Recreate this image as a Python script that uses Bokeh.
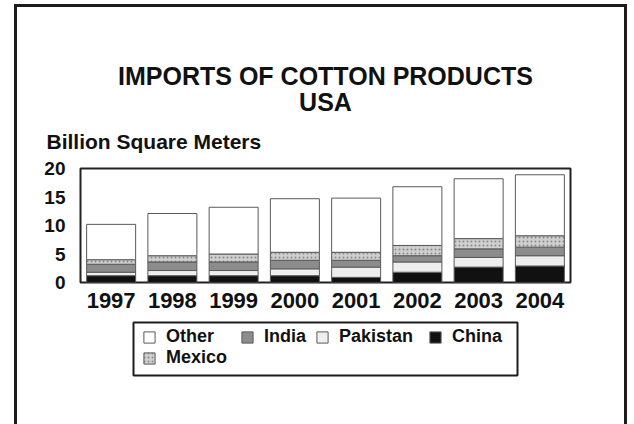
from bokeh.plotting import figure
from bokeh.layouts import column
from bokeh.models import (Title, Legend, LegendItem, FixedTicker, Range1d, FactorRange,
                          ColumnDataSource, BoxAnnotation)
from bokeh.embed import file_html
from bokeh.resources import INLINE

years = ["1997", "1998", "1999", "2000", "2001", "2002", "2003", "2004"]
china = [1.2, 1.2, 1.2, 1.2, 0.9, 1.8, 2.7, 2.9]
pakistan = [0.6, 0.9, 0.9, 1.2, 1.8, 1.8, 1.7, 1.8]
india = [1.4, 1.5, 1.5, 1.5, 1.2, 1.1, 1.5, 1.5]
mexico = [0.8, 1.1, 1.4, 1.4, 1.4, 1.8, 1.8, 2.0]
other = [6.2, 7.4, 8.2, 9.4, 9.5, 10.3, 10.5, 10.7]
y_ticks = [0, 5, 10, 15, 20]

series = ["China", "Pakistan", "India", "Mexico", "Other"]
colors = ["#111111", "#eeeeee", "#8c8c8c", "#cfcfcf", "#ffffff"]
hatches = [None, None, None, "dot", None]

source = ColumnDataSource(dict(years=years, China=china, Pakistan=pakistan,
                               India=india, Mexico=mexico, Other=other))

FONT = "Liberation Sans"
INK = "#111111"
EDGE = "3px solid #1c1c1c"
bar_style = dict(x="years", width=0.8, source=source, fill_color=colors,
                 line_color="#5a5a5a", line_width=1, hatch_pattern=hatches,
                 hatch_color="#8a8a8a", hatch_scale=4)

# ---- main chart ----
p = figure(x_range=FactorRange(*years), y_range=Range1d(0, 20),
           width=613, height=314, output_backend="svg", toolbar_location=None,
           min_border_left=63, min_border_right=60, min_border_top=161,
           min_border_bottom=39)
p.title = None
p.styles = {"border-left": EDGE, "border-right": EDGE, "border-top": EDGE,
            "margin-left": "14px", "margin-top": "4px"}

p.vbar_stack(series, **bar_style)

p.add_layout(Title(text="Billion Square Meters", align="left", offset=-34,
                   text_font=FONT, text_font_size="21px", text_font_style="bold",
                   text_color=INK, standoff=32), "above")
p.add_layout(Title(text="USA", align="center",
                   text_font=FONT, text_font_size="25px", text_font_style="bold",
                   text_color=INK, standoff=-8), "above")
p.add_layout(Title(text="IMPORTS OF COTTON PRODUCTS", align="center",
                   text_font=FONT, text_font_size="25px", text_font_style="bold",
                   text_color=INK, standoff=-1), "above")

p.xgrid.grid_line_color = None
p.ygrid.grid_line_color = None
p.outline_line_color = "#222222"
p.outline_line_width = 2
p.background_fill_color = "#ffffff"
p.border_fill_color = "#ffffff"

p.yaxis.ticker = FixedTicker(ticks=y_ticks)
for ax in (p.xaxis[0], p.yaxis[0]):
    ax.axis_line_color = None
    ax.major_tick_line_color = None
    ax.minor_tick_line_color = None
    ax.major_label_text_font = FONT
    ax.major_label_text_font_style = "bold"
    ax.major_label_text_color = INK
p.yaxis.major_label_text_font_size = "19px"
p.yaxis.major_label_standoff = 9
p.xaxis.major_label_text_font_size = "22px"
p.xaxis.major_label_standoff = 4

# ---- legend strip (frame is aligned with the chart frame by the column) ----
q = figure(x_range=FactorRange(*years), y_range=Range1d(1000, 1001),
           width=613, height=106, output_backend="svg", toolbar_location=None,
           x_axis_location=None, y_axis_location=None,
           min_border_left=0, min_border_right=0, min_border_top=0, min_border_bottom=0)
q.title = None
q.styles = {"border-left": EDGE, "border-right": EDGE, "margin-left": "14px"}
q.grid.visible = False
q.outline_line_color = None
q.background_fill_color = "#ffffff"
q.border_fill_color = "#ffffff"

rq = q.vbar_stack(series, **bar_style)

q.add_layout(BoxAnnotation(left=53, right=437, top=102, bottom=49,
                           left_units="screen", right_units="screen",
                           top_units="screen", bottom_units="screen",
                           fill_color=None, fill_alpha=0, line_color="#1c1c1c",
                           line_alpha=1.0, line_width=2))

legend_style = dict(orientation="horizontal", label_text_font=FONT,
                    label_text_font_size="18px", label_text_font_style="bold",
                    label_text_color=INK, border_line_color=None,
                    background_fill_color=None, background_fill_alpha=0,
                    glyph_width=14, glyph_height=14, label_height=20,
                    label_standoff=10, spacing=0, padding=0, margin=0)
legend_names = ["Other", "India", "Pakistan", "China", "Mexico"]
legend_x = [62, 160, 235, 348, 62]
legend_y = [77, 77, 77, 77, 56]
for name, lx, ly in zip(legend_names, legend_x, legend_y):
    q.add_layout(Legend(items=[LegendItem(label=name, renderers=[rq[series.index(name)]])],
                        location=(lx, ly), **legend_style), "center")

layout = column(p, q, spacing=0)
open("out.html", "w").write(file_html(layout, INLINE))
